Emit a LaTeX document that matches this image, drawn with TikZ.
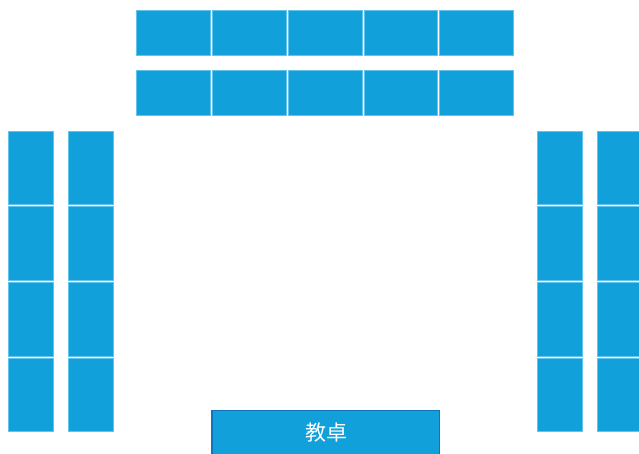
\documentclass[tikz,border=0pt]{standalone}
\usepackage{fontspec}
\newfontfamily\cjk{Noto Sans CJK SC}
\definecolor{seat}{HTML}{12A0DA}
\definecolor{seatedge}{HTML}{62C3EC}
\definecolor{deskedge}{HTML}{1173BE}
\begin{document}
\begin{tikzpicture}[x=1pt,y=-1pt,
  cell/.style={fill=seat,draw=seatedge,line width=0.4pt,inner sep=0pt,outer sep=0pt,anchor=north west},
  hcell/.style={cell,minimum width=73.9pt,minimum height=44.8pt},
  vcell/.style={cell,minimum width=44.8pt,minimum height=73.8pt},
  deskbox/.style={fill=seat,draw=deskedge,line width=1.4pt,inner sep=0pt,outer sep=0pt,anchor=north west,
    minimum width=227.5pt,minimum height=50pt}]
\useasboundingbox (0,0) rectangle (639,454);
\begin{scope}
\clip (0,0) rectangle (639,454);
\foreach \i in {0,...,4}{
  \node[hcell] (ta\i) at ({136.6+\i*75.7},10.2) {};
  \node[hcell] (tb\i) at ({136.6+\i*75.7},70.4) {};
}
\foreach \j in {0,...,3}{
  \node[vcell] (la\j) at (8.3,{130.9+\j*75.65}) {};
  \node[vcell] (lb\j) at (68.6,{130.9+\j*75.65}) {};
  \node[vcell] (ra\j) at (537.3,{130.9+\j*75.65}) {};
  \node[vcell] (rb\j) at (597.6,{130.9+\j*75.65}) {};
}
\node[deskbox] (desk) at (211.8,410.5) {};
\end{scope}
\node[text=white,font=\cjk\fontsize{21}{24}\selectfont,inner sep=0pt] (desklabel) at (326,433) {教卓};
\end{tikzpicture}
\end{document}
